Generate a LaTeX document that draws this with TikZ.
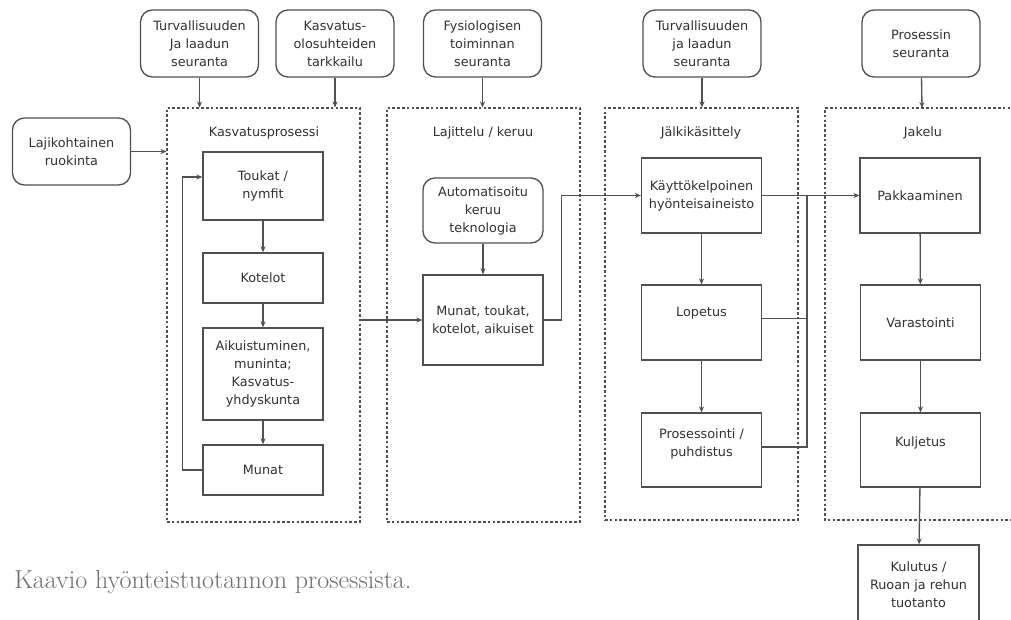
\documentclass[tikz,border=0pt]{standalone}
\usepackage{fontspec}
\newfontfamily\boxfont{DejaVu Sans}
\usetikzlibrary{arrows.meta,calc}
\definecolor{ln}{RGB}{80,80,80}
\definecolor{tx}{RGB}{50,50,50}
\definecolor{capc}{RGB}{110,110,110}
\begin{document}
\begin{tikzpicture}[x=0.75pt,y=-0.75pt,
 every node/.style={font=\boxfont\fontsize{9.6}{13.5}\selectfont, text=tx},
 rbox/.style={draw=ln, line width=1pt, rounded corners=9pt, align=center, inner sep=0pt, minimum width=88.5pt, minimum height=50.25pt},
 sbox/.style={draw=ln, line width=1pt, align=center, inner sep=0pt, minimum width=90pt},
 cont/.style={draw=ln, line width=0.8pt, dash pattern=on 2pt off 1.6pt, inner sep=0pt, minimum width=144.75pt, minimum height=310.5pt},
 dline/.style={draw=ln, line width=0.8pt, dash pattern=on 2pt off 1.6pt},
 arr/.style={draw=ln, line width=1pt, -{Stealth[length=4.5pt,width=3.8pt]}},
 con/.style={draw=ln, line width=1pt}
]
\useasboundingbox[fill=white] (0,0) rectangle (1011,619);

% top monitoring boxes
\node[rbox] (t1) at (199.5,43.5) {Turvallisuuden\\Ja laadun\\seuranta};
\node[rbox] (t2) at (335,43.5) {Kasvatus-\\olosuhteiden\\tarkkailu};
\node[rbox] (feed) at (71.5,151.5) {Lajikohtainen\\ruokinta};
\node[rbox] (t3) at (482.5,43.5) {Fysiologisen\\toiminnan\\seuranta};
\node[rbox] (t4) at (702,43.5) {Turvallisuuden\\ja laadun\\seuranta};
\node[rbox] (t5) at (921,43.5) {Prosessin\\seuranta};

% containers
\node[cont] (c1) at (263.5,315) {};
\node[cont] (c2) at (483.5,315) {};
\node[cont, minimum height=309pt] (c3) at (701.5,314) {};
\draw[dline] (1015,108) -- (825,108) -- (825,520) -- (1015,520);
\coordinate (c4top) at (922,108);

\node (h1) at (264,133) {Kasvatusprosessi};
\node (h2) at (483,133) {Lajittelu / keruu};
\node (h3) at (701,133) {Jälkikäsittely};
\node (h4) at (923,133) {Jakelu};

% Kasvatusprosessi
\node[sbox, minimum height=51pt] (toukat) at (263,186) {Toukat /\\nymfit};
\node[sbox, minimum height=37.5pt] (kotelot) at (263,278) {Kotelot};
\node[sbox, minimum height=69pt] (aikuis) at (263,374) {Aikuistuminen,\\muninta;\\Kasvatus-\\yhdyskunta};
\node[sbox, minimum height=37.5pt] (munat1) at (263,470) {Munat};

% Lajittelu
\node[rbox, minimum width=90pt, minimum height=48.75pt] (autom) at (483,210.5) {Automatisoitu\\keruu\\teknologia};
\node[sbox, minimum height=67.5pt] (mtka) at (483,320) {Munat, toukat,\\kotelot, aikuiset};

% Jalkikasittely
\node[sbox, minimum height=56.25pt] (kayt) at (701.5,195.5) {Käyttökelpoinen\\hyönteisaineisto};
\node[sbox, minimum height=56.25pt, label={[yshift=7pt]center:Lopetus}] (lop) at (701.5,322.5) {};
\node[sbox, minimum height=55.5pt, label={[yshift=4.5pt, align=center]center:Prosessointi /\\puhdistus}] (pros) at (701.5,450) {};

% Jakelu
\node[sbox, minimum height=56.25pt] (pakk) at (920,195.5) {Pakkaaminen};
\node[sbox, minimum height=56.25pt] (var) at (920.5,322.5) {Varastointi};
\node[sbox, minimum height=55.5pt, label={[yshift=5pt]center:Kuljetus}] (kulj) at (920.5,450) {};
\node[sbox, minimum width=90.75pt, minimum height=60pt] (kulu) at (918.5,585) {Kulutus /\\Ruoan ja rehun\\tuotanto};

% caption
\node[anchor=base west, font=\rmfamily\fontsize{19.5}{22}\selectfont, text=capc, inner sep=0pt] (cap) at (14,588) {Kaavio hyönteistuotannon prosessista.};

% connectors from monitors
\draw[arr] (t1) -- (t1 |- c1.north);
\draw[arr] (t2) -- (t2 |- c1.north);
\draw[arr] (feed) -- (feed.east -| c1.west);
\draw[arr] (t3) -- (t3 |- c2.north);
\draw[arr] (t4) -- (t4 |- c3.north);
\draw[arr] (t5) -- (c4top);

% inner flow
\draw[arr] (toukat) -- (kotelot);
\draw[arr] (kotelot) -- (aikuis);
\draw[arr] (aikuis) -- (munat1);
\coordinate (tin) at ($(toukat.west)+(0,-9)$);
\draw[arr] (munat1.west) -- ++(-20,0) |- (tin);

\draw[arr] (mtka.west -| c1.east) -- (mtka.west);
\draw[arr] (autom) -- (mtka);
\draw[arr] (mtka.east) -- ++(18,0) |- (kayt.west);

\draw[arr] (kayt) -- (lop);
\draw[arr] (lop) -- (pros);
\draw[arr] (kayt.east) -- (pakk.west);
\coordinate (vx) at (807,0);
\coordinate (lopE) at ($(lop.east)+(0,-4)$);
\coordinate (prosE) at ($(pros.east)+(0,-3)$);
\draw[con] (lopE) -- (lopE -| vx);
\draw[con] (prosE) -- (prosE -| vx) -- (kayt.east -| vx);

\draw[arr] (pakk) -- (var);
\draw[arr] (var) -- (kulj);
\draw[arr] (kulj) -- (kulu);
\end{tikzpicture}
\end{document}
